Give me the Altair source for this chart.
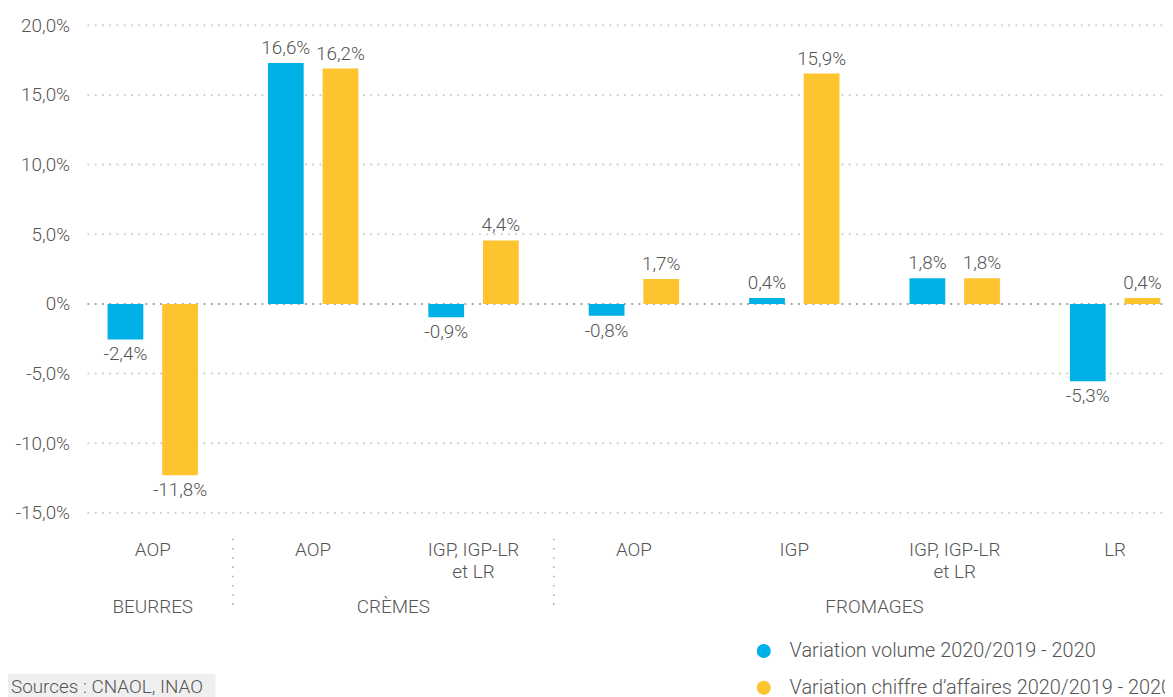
import altair as alt
import pandas as pd

# ---------------- data ----------------
cat_ids = ["c1", "c2", "c3", "c4", "c5", "c6", "c7"]
cat_labels = ["AOP", "AOP", "IGP, IGP-LR\net LR", "AOP", "IGP", "IGP, IGP-LR\net LR", "LR"]
series = ["Variation volume 2020/2019 - 2020",
          "Variation chiffre d’affaires 2020/2019 - 2020"]
volume_values = [-2.55, 17.3, -0.95, -0.85, 0.43, 1.85, -5.55]
volume_labels = ["-2,4%", "16,6%", "-0,9%", "-0,8%", "0,4%", "1,8%", "-5,3%"]
ca_values = [-12.3, 16.9, 4.56, 1.78, 16.54, 1.85, 0.43]
ca_labels = ["-11,8%", "16,2%", "4,4%", "1,7%", "15,9%", "1,8%", "0,4%"]
group_mid_cat = ["c1"]            # BEURRES centred on its single category
group_mid_label = ["BEURRES"]
group_edge_cat = ["c2", "c5"]     # CRÈMES / FROMAGES centred on a band edge
group_edge_label = ["CRÈMES", "FROMAGES"]
separator_cats = ["c1", "c3"]
y_ticks = [-15, -10, -5, 0, 5, 10, 15, 20]
source_text = "Sources : CNAOL, INAO"

COLORS = ["#00B1E7", "#FDC42F"]
TXT = "#555555"
FONT = "Roboto"
FW = 300
FS = 19

W, H = 1100, 491
STEP_RANGE = 1130.5

rows = []
for i, c in enumerate(cat_ids):
    rows.append({"cat": c, "series": series[0], "value": volume_values[i], "label": volume_labels[i]})
    rows.append({"cat": c, "series": series[1], "value": ca_values[i], "label": ca_labels[i]})
df = pd.DataFrame(rows)

xscale = alt.Scale(domain=cat_ids, range=[0, STEP_RANGE], paddingInner=0, paddingOuter=0)
# bar width 36 px, bar centres 55 px apart within a 161.5 px band
xoff = alt.XOffset("series:N", scale=alt.Scale(domain=series, paddingInner=0.3455, paddingOuter=0.641))
yscale = alt.Scale(domain=[-15, 20], nice=False, zero=False)

label_expr = ("(datum.value < 0 ? '-' : '') + (datum.value == 0 ? '0' : "
              "replace(format(abs(datum.value), '.1f'), '.', ',')) + '%'")
yaxis = alt.Axis(values=y_ticks, grid=False, domain=False, ticks=False,
                 labelExpr=label_expr, labelFontSize=FS, labelColor=TXT,
                 labelPadding=3, title=None, labelFont=FONT, labelFontWeight=FW)

# gridlines
grid = alt.Chart(pd.DataFrame({"value": y_ticks})).mark_rule(
    strokeDash=[2, 5.3], strokeWidth=2
).encode(
    y=alt.Y("value:Q", scale=yscale, axis=yaxis),
    x=alt.value(15), x2=alt.value(W),
    color=alt.condition(alt.datum.value == 0, alt.value("#a8a8a8"), alt.value("#d2d2d2")),
)

bars = alt.Chart(df).mark_bar().encode(
    x=alt.X("cat:N", scale=xscale, axis=None),
    xOffset=xoff,
    y=alt.Y("value:Q", scale=yscale, axis=yaxis),
    color=alt.Color("series:N", scale=alt.Scale(domain=series, range=COLORS),
                    legend=alt.Legend(orient="none", legendX=686, legendY=620, title=None,
                                      symbolType="circle", symbolSize=200, symbolStrokeWidth=0,
                                      labelFontSize=20, labelColor=TXT, labelFont=FONT,
                                      labelFontWeight=FW,
                                      labelOffset=16, rowPadding=17, padding=0,
                                      labelLimit=600)),
)

pos_labels = alt.Chart(df).transform_filter(alt.datum.value >= 0).mark_text(
    baseline="middle", dy=-15, fontSize=FS, color=TXT, font=FONT, fontWeight=FW
).encode(
    x=alt.X("cat:N", scale=xscale, axis=None), xOffset=xoff,
    y=alt.Y("value:Q", scale=yscale, axis=yaxis), text="label:N")

neg_labels = alt.Chart(df).transform_filter(alt.datum.value < 0).mark_text(
    baseline="middle", dy=15, fontSize=FS, color=TXT, font=FONT, fontWeight=FW
).encode(
    x=alt.X("cat:N", scale=xscale, axis=None), xOffset=xoff,
    y=alt.Y("value:Q", scale=yscale, axis=yaxis), text="label:N")

cat_text = alt.Chart(pd.DataFrame({"cat": cat_ids, "lab": cat_labels})).mark_text(
    baseline="alphabetic", lineBreak="\n", lineHeight=23, fontSize=FS, color=TXT,
    font=FONT, fontWeight=FW
).encode(x=alt.X("cat:N", scale=xscale, axis=None), y=alt.value(534), text="lab:N")

grp_mid = alt.Chart(pd.DataFrame({"cat": group_mid_cat, "lab": group_mid_label})).mark_text(
    baseline="alphabetic", fontSize=FS, color=TXT, font=FONT, fontWeight=FW
).encode(x=alt.X("cat:N", scale=xscale, axis=None), y=alt.value(592), text="lab:N")

grp_edge = alt.Chart(pd.DataFrame({"cat": group_edge_cat, "lab": group_edge_label})).mark_text(
    baseline="alphabetic", fontSize=FS, color=TXT, font=FONT, fontWeight=FW
).encode(x=alt.X("cat:N", scale=xscale, axis=None, bandPosition=1), y=alt.value(592), text="lab:N")

seps = alt.Chart(pd.DataFrame({"cat": separator_cats})).mark_rule(
    strokeDash=[1.6, 7.7], strokeWidth=1.6, color="#ababab"
).encode(x=alt.X("cat:N", scale=xscale, axis=None, bandPosition=1),
         y=alt.value(517), y2=alt.value(585))

src_box = alt.Chart(pd.DataFrame({"t": [source_text]})).mark_rect(color="#efefef").encode(
    x=alt.value(-65), x2=alt.value(144), y=alt.value(653), y2=alt.value(690))

src_text = alt.Chart(pd.DataFrame({"t": [source_text]})).mark_text(
    align="left", baseline="alphabetic", fontSize=19, color=TXT, font=FONT, fontWeight=FW
).encode(x=alt.value(-62), y=alt.value(672), text="t:N")

chart = alt.layer(grid, bars, pos_labels, neg_labels, cat_text, grp_mid, grp_edge, seps,
                  src_box, src_text).properties(
    width=W, height=H,
    autosize=alt.AutoSizeParams(type="none"),
    padding={"left": 65, "top": 15, "right": 0, "bottom": 183},
).configure(font=FONT, view=alt.ViewConfig(stroke=None))

chart.save("out.html", embed_options={"renderer": "svg", "actions": False})
